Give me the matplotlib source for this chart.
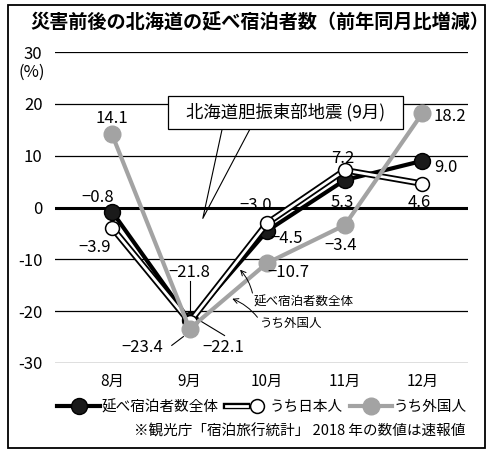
import matplotlib
matplotlib.use("Agg")
import matplotlib.pyplot as plt
import matplotlib.patheffects as pe
from matplotlib.lines import Line2D
from matplotlib.patches import Rectangle
from matplotlib.legend_handler import HandlerTuple

plt.rcParams['font.family'] = ['Noto Sans CJK JP', 'DejaVu Sans']

months = ["8月", "9月", "10月", "11月", "12月"]
total = [-0.8, -21.8, -4.5, 5.3, 9.0]
japanese = [-3.9, -22.1, -3.0, 7.2, 4.6]
foreign = [14.1, -23.4, -10.7, -3.4, 18.2]
yticks = [30, 20, 10, 0, -10, -20, -30]

GRAY = '#a3a3a3'
x = list(range(len(months)))

fig = plt.figure(figsize=(4.93, 4.55), dpi=100)
ax = fig.add_axes([0.1116, 0.2022, 0.838, 0.6835])

# 外枠
fig.patches.append(Rectangle((8 / 493, 1 - 448 / 455), 477 / 493, 443 / 455,
                             transform=fig.transFigure, fill=False,
                             edgecolor='black', linewidth=1.3))

fig.text(30 / 493, 1 - 22 / 455, "災害前後の北海道の延べ宿泊者数（前年同月比増減）",
         fontsize=13.8, fontweight='bold', va='center', ha='left')

# 目盛り線
for v in yticks:
    ax.axhline(v, color='black', linewidth=2.2 if v == 0 else 0.9, zorder=1)

ax.set_xlim(-0.735, 4.59)
ax.set_ylim(-30, 30)
for s in ax.spines.values():
    s.set_visible(False)
ax.set_yticks(yticks)
ax.set_yticklabels([str(v) for v in yticks], fontsize=12)
ax.set_xticks(x)
ax.set_xticklabels(months, fontsize=11)
ax.tick_params(axis='y', length=0, pad=9)
ax.tick_params(axis='x', length=0, pad=7)
ax.text(-0.86, 26.0, "(%)", fontsize=12, ha='right', va='center')

# 系列
ax.plot(x, total, color='black', linewidth=3, marker='o', markersize=11.5,
        markerfacecolor='#1a1a1a', markeredgecolor='black', zorder=3)
ax.plot(x, japanese, color='black', linewidth=4.6, zorder=4, solid_capstyle='butt')
ax.plot(x, japanese, color='white', linewidth=2.0, marker='o', markersize=10,
        markerfacecolor='white', markeredgecolor='black', markeredgewidth=1.1, zorder=4)
ax.plot(x, foreign, color=GRAY, linewidth=3, marker='o', markersize=12,
        markerfacecolor=GRAY, markeredgecolor=GRAY, zorder=5)

# 数値ラベル
fs = 12
labels = [
    ("−0.8", -0.18, 1.9), ("−3.9", -0.23, -7.7), ("14.1", 0.0, 17.2),
    ("−21.8", 1.0, -12.5), ("−23.4", 0.39, -27.0), ("−22.1", 1.43, -27.0),
    ("−3.0", 1.85, 0.4), ("−4.5", 2.25, -6.0), ("−10.7", 2.27, -12.5),
    ("7.2", 2.97, 9.5), ("5.3", 2.97, 1.0), ("−3.4", 2.95, -7.3),
    ("9.0", 4.3, 7.7), ("4.6", 3.96, 1.0), ("18.2", 4.35, 17.6),
]
for t, lx, ly in labels:
    ax.text(lx, ly, t, fontsize=fs, ha='center', va='center', zorder=6)

# 引き出し線
lk = dict(color='black', linewidth=0.8, zorder=2)
ax.plot([1.0, 1.0], [-14.1, -20.9], **lk)
ax.plot([1.13, 1.45], [-21.8, -24.7], **lk)
ax.plot([0.77, 0.92], [-26.6, -24.9], **lk)

ax.annotate("延べ宿泊者数全体", xy=(1.65, -12.0), xytext=(1.82, -18.3),
            fontsize=9, ha='left', va='center', zorder=6,
            arrowprops=dict(arrowstyle='->', color='black', lw=0.7,
                            shrinkA=0, shrinkB=0,
                            connectionstyle='arc3,rad=0.15',
                            relpos=(0, 0.9)))
ax.annotate("うち外国人", xy=(1.55, -17.6), xytext=(1.91, -22.4),
            fontsize=9, ha='left', va='center', zorder=6,
            arrowprops=dict(arrowstyle='->', color='black', lw=0.7,
                            shrinkA=0, shrinkB=0,
                            connectionstyle='arc3,rad=0.15',
                            relpos=(0, 0.7)))

# 吹き出し
ax.add_patch(Rectangle((0.72, 15.2), 3.03, 6.4, facecolor='white',
                       edgecolor='black', linewidth=0.9, zorder=6, clip_on=False))
ax.text(2.235, 18.4, "北海道胆振東部地震 (9月)", fontsize=12.5, ha='center',
        va='center', zorder=7)
ax.plot([1.42, 1.17, 1.78], [15.2, -2.1, 15.2], color='black', linewidth=0.8,
        zorder=2)

# 凡例
h_total = Line2D([], [], color='black', linewidth=3, marker='o', markersize=11.5,
                 markerfacecolor='#1a1a1a', markeredgecolor='black')
h_jp = (Line2D([], [], color='white', linewidth=2.0,
               path_effects=[pe.Stroke(linewidth=4.6, foreground='black'), pe.Normal()]),
        Line2D([], [], linestyle='none', marker='o', markersize=10,
               markerfacecolor='white', markeredgecolor='black', markeredgewidth=1.1))
h_fo = Line2D([], [], color=GRAY, linewidth=3, marker='o', markersize=12,
              markerfacecolor=GRAY, markeredgecolor=GRAY)
fig.legend([h_total, h_jp, h_fo], ["延べ宿泊者数全体", "うち日本人", "うち外国人"],
           handler_map={tuple: HandlerTuple(ndivide=None)},
           loc='center', bbox_to_anchor=(262 / 493, 1 - 407 / 455), ncol=3,
           frameon=False, fontsize=10.5, handlelength=2.9, handletextpad=0.1,
           columnspacing=0.5, borderpad=0)

fig.text(465 / 493, 1 - 432 / 455, "※観光庁「宿泊旅行統計」 2018 年の数値は速報値",
         fontsize=10.5, ha='right', va='center')

fig.savefig("out.png", dpi=100)
